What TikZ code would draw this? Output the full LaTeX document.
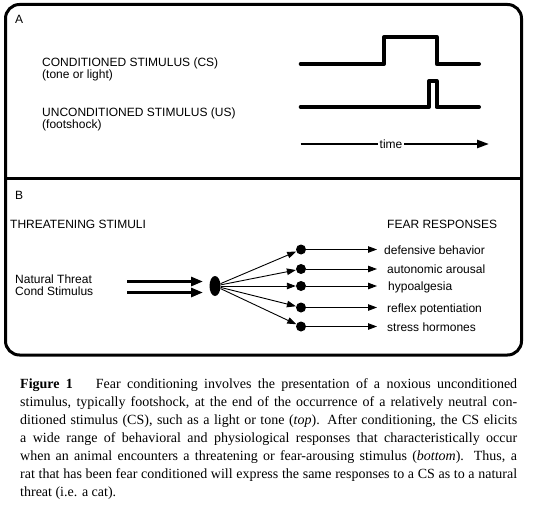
\documentclass[tikz,border=0pt]{standalone}
\usepackage{fontspec}
\setmainfont{Liberation Serif}
\newfontfamily\arialfont{Liberation Sans}
\usetikzlibrary{arrows.meta,shapes.geometric}
\begin{document}
\begin{tikzpicture}[x=1pt,y=-1pt,
  sans/.style={font=\arialfont\fontsize{12}{14}\selectfont, inner sep=0pt},
  wave/.style={line width=4pt, line join=round, line cap=round},
  frame/.style={line width=3pt},
  dot/.style={circle, fill=black, inner sep=0pt, minimum size=10pt},
  fan/.style={line width=0.9pt, -{Triangle[length=9pt,width=6.5pt]}},
  stim/.style={line width=2.8pt, -{Triangle[length=12pt,width=9pt]}},
  ]
\useasboundingbox (0,0) rectangle (537,505);
% frame
\draw[frame, rounded corners=14pt] (5.5,4.5) rectangle (521.5,355);
\draw[frame] (5.5,178) -- (521.5,178);
% panel A
\node[sans, anchor=base west] (lA) at (15,23.5) {A};
\node[sans, anchor=base west] (cs) at (42,66.8) {CONDITIONED STIMULUS (CS)};
\node[sans, anchor=base west] (csb) at (42,79) {(tone or light)};
\node[sans, anchor=base west] (us) at (42,117) {UNCONDITIONED STIMULUS (US)};
\node[sans, anchor=base west] (usb) at (42,129) {(footshock)};
\draw[wave] (300.7,64) -- (384,64) -- (384,37) -- (436.7,37) -- (436.7,64) -- (479,64);
\draw[wave] (300.7,107) -- (429,107) -- (429,81) -- (436.5,81) -- (436.5,107) -- (479,107);
\node[sans, inner sep=1.5pt] (time) at (391,144) {time};
\coordinate (ts) at (300.7,144);
\coordinate (te) at (489,144);
\draw[line width=2.5pt] (ts) -- (time.west);
\draw[line width=2.5pt, -{Triangle[length=12pt,width=8pt]}] (time.east) -- (te);
% panel B
\node[sans, anchor=base west] (lB) at (15,199) {B};
\node[sans, anchor=base west] (thr) at (10,228) {THREATENING STIMULI};
\node[sans, anchor=base west] (fear) at (387,228) {FEAR RESPONSES};
\node[sans, anchor=base west] (nat) at (15,283) {Natural Threat};
\node[sans, anchor=base west] (cond) at (15,295.5) {Cond Stimulus};
\node[ellipse, fill=black, minimum width=11pt, minimum height=20pt, inner sep=0pt] (ell) at (215,286) {};
\coordinate (s1a) at (127,281.5); \coordinate (s1b) at (203,281.5);
\coordinate (s2a) at (127,292.5); \coordinate (s2b) at (203,292.5);
\draw[stim] (s1a) -- (s1b);
\draw[stim] (s2a) -- (s2b);
\foreach \i/\y/\lx/\txt in {1/249.5/384/defensive behavior, 2/269/387/autonomic arousal, 3/286/388/hypoalgesia, 4/307.5/387/reflex potentiation, 5/326.5/387/stress hormones}{
  \node[dot] (d\i) at (301,\y) {};
  \coordinate (e\i) at (377,\y);
  \draw[fan] (ell) -- (d\i);
  \draw[fan] (d\i) -- (e\i);
  \node[sans, anchor=base west] (r\i) at (\lx,\y+4.5) {\txt};
}
% caption
\node[anchor=north west, inner sep=0pt, align=left, font=\fontsize{14}{18}\selectfont] (cap) at (20,378.5) {%
\makebox[497pt][s]{\textbf{Figure 1}\hspace{23pt}Fear conditioning involves the presentation of a noxious unconditioned}\\
\makebox[497pt][s]{stimulus, typically footshock, at the end of the occurrence of a relatively neutral con-}\\
\makebox[497pt][s]{ditioned stimulus (CS), such as a light or tone (\textit{top}). After conditioning, the CS elicits}\\
\makebox[497pt][s]{a wide range of behavioral and physiological responses that characteristically occur}\\
\makebox[497pt][s]{when an animal encounters a threatening or fear-arousing stimulus (\textit{bottom}). Thus, a}\\
\makebox[497pt][s]{rat that has been fear conditioned will express the same responses to a CS as to a natural}\\
threat (i.e. a cat).};
\end{tikzpicture}
\end{document}
